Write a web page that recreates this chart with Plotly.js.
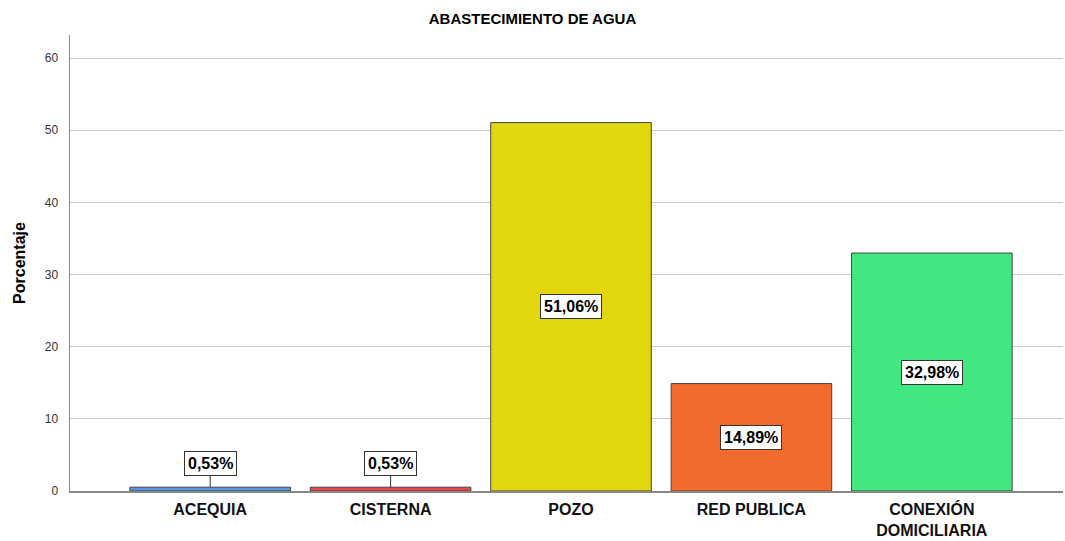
<!DOCTYPE html>
<html><head><meta charset="utf-8">
<script src="https://cdn.plot.ly/plotly-3.0.1.min.js"></script>
<style>body{margin:0;background:#fff}#chart{width:1065px;height:541px}</style>
</head><body><div id="chart"></div>
<script>
const categories = ["ACEQUIA", "CISTERNA", "POZO", "RED PUBLICA", "CONEXIÓN DOMICILIARIA"];
const tickLabels = ["ACEQUIA", "CISTERNA", "POZO", "RED PUBLICA", "CONEXIÓN<br>DOMICILIARIA"];
const percentages = [0.53, 0.53, 51.06, 14.89, 32.98];
const valueLabels = ["0,53%", "0,53%", "51,06%", "14,89%", "32,98%"];
const barColors = ["#5a93e0", "#e8474a", "#e2d60f", "#f26a2c", "#41e87f"];

const trace = {
  type: "bar",
  x: categories,
  y: percentages,
  width: 0.89,
  marker: {color: barColors, line: {color: "#444444", width: 1}},
  hoverinfo: "none"
};

const annotations = categories.map((c, i) => {
  const small = percentages[i] < 5;
  const a = {
    x: c, y: small ? percentages[i] : percentages[i] / 2,
    xref: "x", yref: "y",
    text: "<b>" + valueLabels[i] + "</b>",
    font: {family: "Liberation Sans, Arial, sans-serif", size: 16, color: "#000"},
    bgcolor: "#ffffff", bordercolor: "#333333", borderwidth: 1, borderpad: 3,
    showarrow: small
  };
  if (small) {
    Object.assign(a, {ax: 0, ay: -24, arrowhead: 0, arrowwidth: 1, arrowcolor: "#333333", standoff: 0});
  }
  return a;
});

const layout = {
  width: 1065, height: 541,
  margin: {l: 70, r: 2, t: 35, b: 50},
  paper_bgcolor: "#ffffff", plot_bgcolor: "#ffffff",
  showlegend: false,
  title: {text: "<b>ABASTECIMIENTO DE AGUA</b>", x: 0.5, xanchor: "center", y: 0.965, yanchor: "middle",
          font: {family: "Liberation Sans, Arial, sans-serif", size: 15, color: "#000"}},
  xaxis: {
    type: "category", categoryorder: "array", categoryarray: categories,
    tickvals: categories, ticktext: tickLabels.map(t => "<b>" + t + "</b>"),
    range: [-0.777, 4.727],
    showline: true, linecolor: "#888888", linewidth: 1.5,
    showgrid: false, ticks: "", zeroline: false, ticklabelstandoff: 3,
    tickfont: {family: "Liberation Sans, Arial, sans-serif", size: 16, color: "#111"},
    tickangle: 0
  },
  yaxis: {
    range: [0, 63.2],
    tickvals: [0, 10, 20, 30, 40, 50, 60],
    showline: true, linecolor: "#888888", linewidth: 1.5,
    showgrid: true, gridcolor: "#c8c8c8", gridwidth: 1,
    zeroline: false, ticks: "", ticklabelstandoff: 8,
    tickfont: {family: "Liberation Sans, Arial, sans-serif", size: 12, color: "#333"},
    title: {text: "<b>Porcentaje</b>", standoff: 15,
            font: {family: "Liberation Sans, Arial, sans-serif", size: 16, color: "#000"}}
  },
  annotations: annotations
};

Plotly.newPlot("chart", [trace], layout, {displayModeBar: false, staticPlot: true});
</script>
</body></html>
